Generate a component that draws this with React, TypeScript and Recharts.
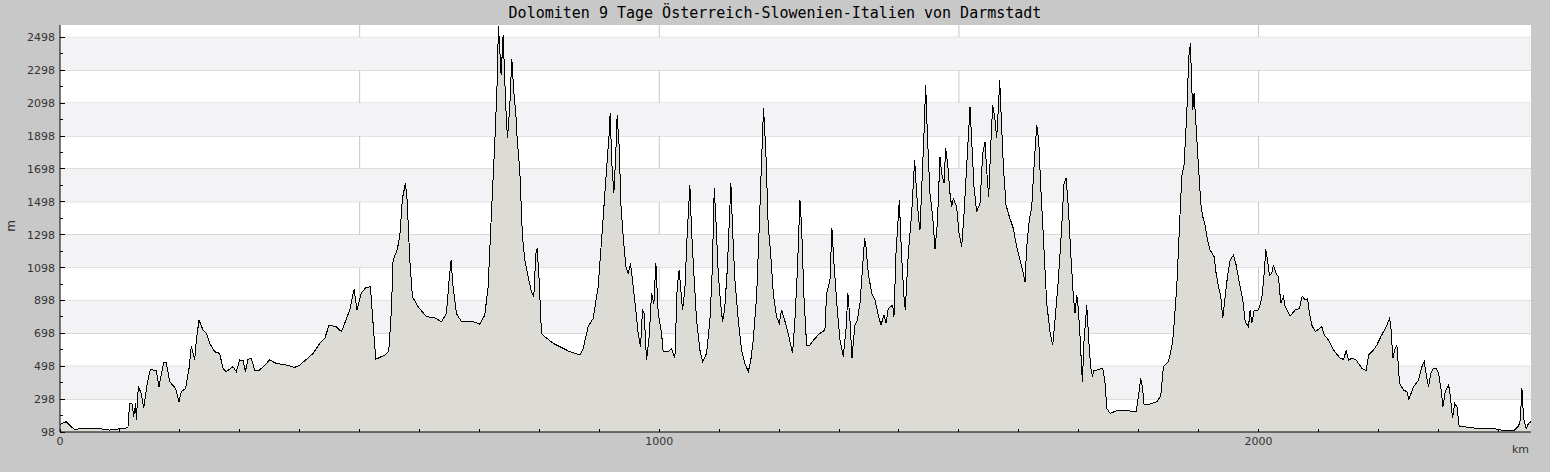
import { AreaChart, Area, XAxis, YAxis, CartesianGrid, ReferenceArea } from 'recharts';

// distance along the route (km) and elevation (m)
const KM = [
  0, 10.5, 18.8, 24.4, 43.9, 66.1, 82.8, 110.6, 113.4, 116.2, 120.6, 122.9, 126.2, 127.3, 130.7, 135.7, 139.6,
  145.1, 150.7, 160.7, 165.2, 173, 177.4, 183, 193, 198.6, 202.5, 209.7, 215.3, 219.1, 224.7, 227.5, 232,
  238.6, 244.2, 249.8, 258.1, 266.4, 272, 277.6, 288.7, 294.3, 299.8, 305.4, 309.3, 313.7, 319.3, 324.9,
  333.2, 341.6, 349.9, 361, 377.8, 391.7, 400, 411.1, 422.3, 433.4, 441.8, 449, 461.2, 469.6, 475.1, 483.5,
  490.7, 495.7, 503, 510.2, 518, 522.4, 526.9, 533.6, 541.9, 548.6, 553, 555.8, 562.5, 566.9, 571.4, 576.4,
  579.2, 583.7, 588.1, 597.6, 611.4, 625.3, 636.5, 644.8, 649.3, 652.6, 655.9, 661.5, 669.9, 689.3, 700.5,
  708.8, 714.4, 719.9, 725.5, 729.4, 731.6, 733.9, 736.1, 739.4, 743.9, 746.7, 750.5, 753.9, 757.2, 760.6,
  762.8, 767.2, 771.7, 775.6, 781.2, 786.7, 790.6, 794, 796.2, 799.5, 803.4, 809, 822.9, 839.6, 850.7, 867.4,
  873, 881.3, 889.7, 898, 905.3, 911.9, 916.4, 918, 920.8, 924.2, 927, 929.7, 933.1, 935.9, 939.8, 944.2,
  948.1, 952, 956.5, 960.9, 964.8, 968.7, 972, 974.8, 978.7, 983.2, 987.1, 991, 994.3, 998.2, 1003.8, 1006.5,
  1014.9, 1020.5, 1026, 1029.9, 1033.2, 1035.5, 1038.8, 1042.7, 1046.6, 1051.1, 1053.8, 1057.7, 1062.2,
  1067.8, 1072.2, 1078.9, 1084.5, 1088.4, 1091.7, 1094.5, 1098.4, 1102.3, 1105.6, 1109, 1113.4, 1116.7,
  1119.5, 1122.3, 1126.2, 1131.8, 1137.4, 1142.9, 1148.5, 1152.4, 1156.8, 1162.4, 1166.8, 1170.7, 1174,
  1177.9, 1181.8, 1185.7, 1190.2, 1195.7, 1200.2, 1204.1, 1212.4, 1216.9, 1222.4, 1226.3, 1230.2, 1234.7,
  1237.5, 1241.4, 1245.8, 1251.4, 1259.7, 1268.1, 1276.4, 1279.2, 1284.8, 1288.1, 1291.5, 1297, 1301.5,
  1307, 1311.5, 1314.8, 1318.2, 1321.5, 1326.5, 1330.4, 1334.9, 1339.3, 1342.6, 1344.9, 1348.8, 1354.4,
  1359.9, 1365.5, 1369.9, 1374.9, 1378.3, 1382.2, 1389.4, 1391.6, 1395, 1400.5, 1404.4, 1408.3, 1410.5,
  1415.5, 1421.1, 1426.1, 1429.5, 1432.2, 1435, 1437.8, 1441.7, 1444.5, 1447.3, 1451.7, 1456.2, 1460.1,
  1464, 1468.4, 1471.2, 1475.1, 1477.9, 1481.2, 1485.1, 1487.9, 1490.7, 1496.2, 1500.1, 1504.6, 1508.5,
  1512.9, 1518.5, 1521.8, 1525.2, 1529.6, 1535.2, 1539.7, 1543.5, 1546.3, 1549.7, 1553, 1556.3, 1559.7,
  1563, 1566.4, 1568, 1570.8, 1574.2, 1578.6, 1584.2, 1590.8, 1596.4, 1602, 1607.5, 1610.3, 1613.1, 1617.5,
  1621.5, 1625.3, 1629.8, 1633.1, 1636.5, 1640.9, 1646.5, 1652, 1656.5, 1660.4, 1665.9, 1671.5, 1675.4,
  1678.8, 1682.6, 1686.6, 1691, 1693.8, 1696.6, 1699.4, 1702.1, 1706, 1708.8, 1713.3, 1716.6, 1720, 1723.3,
  1724.4, 1730, 1740, 1743.9, 1746.7, 1752.2, 1763.3, 1780, 1795.6, 1799.5, 1803.4, 1806.2, 1809, 1819,
  1830.1, 1836.8, 1841.2, 1849.6, 1855.2, 1857.9, 1863.5, 1868, 1871.8, 1875.7, 1880.2, 1883.5, 1886.3,
  1888.5, 1890.2, 1892.4, 1895.8, 1899.7, 1903.6, 1906.9, 1910.8, 1914.7, 1919.2, 1925.8, 1929.2, 1933.1,
  1937, 1940.3, 1944.2, 1948.1, 1952.5, 1958.1, 1962.6, 1968.1, 1973.7, 1977.6, 1983.2, 1985.9, 1988.7,
  1992.6, 1999.9, 2005.4, 2009.3, 2012.1, 2014.9, 2018.2, 2022.1, 2024.9, 2029.3, 2033.2, 2037.1, 2041.6,
  2044.4, 2052.7, 2061.1, 2068.3, 2072.8, 2077.8, 2081.7, 2085, 2088.9, 2094.5, 2105.6, 2109.5, 2116.7,
  2119.5, 2125.1, 2136.2, 2141.8, 2146.2, 2150.1, 2155.7, 2162.9, 2172.4, 2179.6, 2183.5, 2191.8, 2197.4,
  2204.1, 2208.5, 2214.1, 2218.5, 2220.8, 2224.1, 2228, 2230.8, 2235.2, 2241.9, 2247.5, 2250.8, 2258.6,
  2267, 2272.5, 2276.4, 2280.9, 2283.7, 2287.5, 2292, 2296.5, 2300.3, 2304.8, 2307.6, 2311.5, 2317.1,
  2319.8, 2323.8, 2327.1, 2331, 2334.9, 2342.1, 2364.4, 2392.2, 2408.9, 2425.6, 2433.9, 2436.7, 2439.5,
  2442.2, 2446.7, 2450.6, 2454.5,
];

const ELEV = [
  145, 161, 130, 114, 122, 118, 110, 122, 126, 272, 268, 191, 272, 171, 374, 333, 242,
  384, 479, 471, 374, 519, 519, 404, 363, 282, 343, 363, 485, 621, 536, 657, 779,
  718, 698, 637, 586, 576, 485, 465, 495, 465, 536, 532, 465, 540, 546, 475,
  475, 505, 536, 515, 505, 491, 505, 540, 576, 637, 667, 748, 738, 708, 759, 840,
  965, 840, 945, 975, 982, 759, 540, 552, 566, 590, 840, 1143, 1204, 1285, 1518, 1610,
  1508, 1143, 921, 860, 799, 793, 769, 819, 1022, 1143, 982, 819, 769, 769, 754,
  809, 982, 1427, 1853, 2217, 2565, 2420, 2268, 2511, 2076, 1883, 2076, 2369, 2167, 2035,
  1883, 1691, 1285, 1143, 1042, 951, 921, 1184, 1214, 1022, 698, 678, 637, 607, 586, 566,
  607, 738, 789, 982, 1346, 1691, 1914, 2035, 1731, 1549, 1751, 2025, 1832, 1488, 1285, 1103,
  1062, 1123, 982, 840, 698, 617, 840, 819, 536, 678, 941, 880, 1123, 819, 698, 586,
  586, 607, 546, 982, 1083, 982, 840, 961, 1306, 1599, 1326, 1062, 779,
  596, 525, 576, 779, 1083, 1579, 1387, 1062, 880, 769, 840, 1083, 1366,
  1610, 1326, 1022, 779, 596, 515, 465, 525, 657, 921, 1346, 1751, 2066,
  1792, 1346, 1194, 941, 799, 759, 840, 738, 667, 576, 779, 1062, 1508,
  1346, 921, 627, 627, 667, 698, 718, 941, 1022, 1336, 1123, 840, 657,
  556, 718, 941, 779, 546, 748, 779, 880, 1103, 1275, 1225, 1062, 941,
  900, 809, 748, 809, 759, 850, 870, 799, 1184, 1508, 1164, 921, 840,
  1184, 1427, 1751, 1549, 1417, 1326, 1569, 1914, 2207, 1914, 1549, 1407, 1214,
  1366, 1772, 1670, 1610, 1822, 1731, 1549, 1468, 1518, 1468, 1306, 1225, 1427,
  1711, 2076, 1832, 1589, 1437, 1488, 1792, 1863, 1691, 1529, 1832, 2086, 2015,
  1883, 2106, 2238, 1995, 1711, 1478, 1407, 1336, 1225, 1143, 1062, 1012, 1225, 1387,
  1468, 1711, 1964, 1873, 1589, 1285, 880, 708, 627, 779, 1022, 1346, 1610,
  1640, 1468, 1184, 921, 819, 931, 840, 678, 404, 657, 870, 657, 485, 434,
  475, 475, 485, 394, 242, 211, 228, 228, 221, 313, 424, 374, 262, 268,
  282, 317, 495, 525, 617, 698, 981, 1346, 1650, 1721, 2035, 2380, 2461,
  2197, 2055, 2157, 1954, 1711, 1488, 1407, 1356, 1265, 1204, 1164, 1062, 982,
  921, 789, 921, 1042, 1143, 1174, 1113, 1002, 900, 769, 738, 840, 759,
  836, 840, 910, 1062, 1208, 1143, 1052, 1062, 1113, 1062, 1042, 880, 921,
  860, 803, 840, 850, 925, 900, 910, 819, 748, 708, 738, 688, 657,
  637, 596, 546, 540, 592, 536, 546, 536, 485, 471, 566, 596, 627,
  678, 708, 748, 789, 738, 546, 607, 627, 394, 353, 343, 297, 374,
  414, 495, 525, 424, 374, 455, 485, 485, 455, 353, 252, 343, 384,
  323, 181, 272, 252, 130, 130, 120, 120, 106, 106, 134, 171, 363,
  181, 120, 151, 161,
];

const Y_TICKS = [
  98, 198, 298, 398, 498, 598, 698, 798, 898, 998, 1098, 1198, 1298, 1398, 1498, 1598, 1698,
  1798, 1898, 1998, 2098, 2198, 2298, 2398, 2498,
];
const Y_LABELS = [98, 298, 498, 698, 898, 1098, 1298, 1498, 1698, 1898, 2098, 2298, 2498];
const X_TICKS = [
  0, 100, 200, 300, 400, 500, 600, 700, 800, 900, 1000, 1100, 1200, 1300, 1400, 1500, 1600,
  1700, 1800, 1900, 2000, 2100, 2200, 2300, 2400,
];
const X_LABELS = [0, 1000, 2000];
const X_GRID = [500, 1000, 1500, 2000];
const BANDS = [
  [298, 498], [698, 898], [1098, 1298], [1498, 1698], [1898, 2098], [2298, 2498],
];

const data = KM.map((km, i) => ({ km, elev: ELEV[i] }));

const labelFont = { fontFamily: 'DejaVu Sans', fontSize: 11, fill: '#333' };

function YTick({ x, y, payload }: any) {
  const major = Y_LABELS.includes(payload.value);
  return (
    <g>
      <line x1={x} x2={x + (major ? 5 : 3)} y1={y} y2={y} stroke="#000" shapeRendering="crispEdges" />
      {major && (
        <text x={x - 5} y={y + 4} textAnchor="end" {...labelFont}>
          {payload.value}
        </text>
      )}
    </g>
  );
}

function XTick({ x, y, payload }: any) {
  const major = X_LABELS.includes(payload.value);
  return (
    <g>
      <line x1={x} x2={x} y1={y} y2={y - 3} stroke="#000" shapeRendering="crispEdges" />
      {major && (
        <text x={x} y={y + 13} textAnchor="middle" {...labelFont}>
          {payload.value}
        </text>
      )}
    </g>
  );
}

export default function App() {
  return (
    <div style={{ position: 'absolute', left: 0, top: 0, width: 1550, height: 472, background: '#c8c8c8' }}>
      <div
        style={{
          position: 'absolute', left: 0, top: 4, width: 1550, textAlign: 'center',
          fontFamily: 'DejaVu Sans Mono', fontSize: 15, color: '#000', lineHeight: '18px',
        }}
      >
        Dolomiten 9 Tage Österreich-Slowenien-Italien von Darmstadt
      </div>
      <div
        style={{
          position: 'absolute', left: 5, top: 219, fontFamily: 'DejaVu Sans', fontSize: 12,
          color: '#333', transform: 'rotate(-90deg)', lineHeight: '14px',
        }}
      >
        m
      </div>
      <div
        style={{
          position: 'absolute', left: 1512, top: 443, fontFamily: 'DejaVu Sans', fontSize: 11,
          color: '#333', lineHeight: '14px',
        }}
      >
        km
      </div>
      <AreaChart
        width={1550}
        height={472}
        data={data}
        margin={{ top: 25, right: 19, left: 0, bottom: 0 }}
        style={{ position: 'absolute', left: 0, top: 0 }}
      >
        <CartesianGrid
          fill="#fff"
          stroke="#c8c8c8"
          horizontalValues={Y_LABELS}
          verticalValues={X_GRID}
        />
        {BANDS.map(([a, b]) => (
          <ReferenceArea key={a} y1={a} y2={b} fill="#f3f2f5" fillOpacity={1} stroke="none" zIndex={-60} />
        ))}
        <XAxis
          dataKey="km"
          type="number"
          domain={[0, 2454.6]}
          ticks={X_TICKS}
          interval={0}
          tickSize={0}
          tickMargin={0}
          tick={<XTick />}
          axisLine={{ stroke: '#000' }}
          tickLine={false}
          height={40}
          allowDataOverflow
        />
        <YAxis
          type="number"
          domain={[98, 2573]}
          ticks={Y_TICKS}
          interval={0}
          tickSize={0}
          tickMargin={0}
          tick={<YTick />}
          axisLine={{ stroke: '#000' }}
          tickLine={false}
          width={60}
          allowDataOverflow
        />
        <Area
          dataKey="elev"
          type="linear"
          stroke="#000"
          strokeWidth={1}
          fill="#dcdbd6"
          fillOpacity={1}
          shapeRendering="crispEdges"
          isAnimationActive={false}
          dot={false}
          activeDot={false}
        />
      </AreaChart>
    </div>
  );
}
